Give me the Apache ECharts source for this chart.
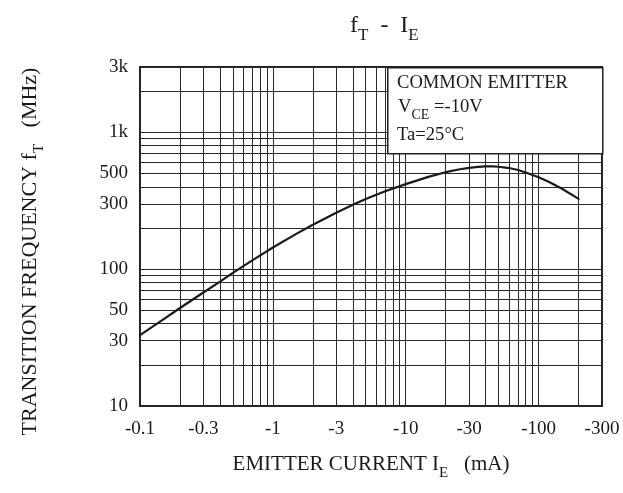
<!DOCTYPE html>
<html>
<head>
<meta charset="utf-8">
<script src="https://cdn.jsdelivr.net/npm/echarts@6.0.0/dist/echarts.min.js"></script>
<style>
html,body{margin:0;padding:0;background:#fff;}
#chart{width:623px;height:493px;}
</style>
</head>
<body>
<div id="chart"></div>
<script>
// ---- data (I_E magnitude in mA, f_T in MHz) ----
const emitterCurrent = [0.1, 0.15, 0.2, 0.3, 0.4, 0.5, 0.7, 1, 1.5, 2, 3, 4, 5, 7, 10,
  15, 20, 25, 30, 35, 40, 45, 50, 60, 70, 80, 100, 120, 150, 200];
const transitionFreq = [33, 43, 52, 67.5, 81, 94, 116, 144, 181, 211, 258, 295, 326, 371, 418,
  474, 511, 535, 550, 559, 563, 563, 560, 548, 530, 509, 469, 433, 387, 326];

// tick labels
const xLabelValues = [0.1, 0.3, 1, 3, 10, 30, 100, 300];
const yLabelValues = [10, 30, 50, 100, 300, 500, 1000, 3000];

// grid lines
const xGridValues = [0.1, 0.2, 0.3, 0.4, 0.5, 0.6, 0.7, 0.8, 0.9,
  1, 2, 3, 4, 5, 6, 7, 8, 9,
  10, 20, 30, 40, 50, 60, 70, 80, 90,
  100, 200, 300];
const yGridValues = [10, 20, 30, 40, 50, 60, 70, 80, 90,
  100, 200, 300, 400, 500, 600, 700, 800, 900,
  1000, 2000, 3000];

const FONT = '"Liberation Serif", "Times New Roman", serif';
const INK = '#1a1a1a';

const chart = echarts.init(document.getElementById('chart'), null, {renderer: 'canvas'});

chart.setOption({
  backgroundColor: '#fff',
  animation: false,
  title: {
    text: '{a|f}{s|T}{a|  -  I}{s|E}',
    left: 345,
    top: 9,
    textStyle: {
      fontWeight: 'normal',
      rich: {
        a: {fontFamily: FONT, fontSize: 24, fontWeight: 'normal', color: INK, verticalAlign: 'bottom', padding: [0, 0, 6, 0]},
        s: {fontFamily: FONT, fontSize: 17, fontWeight: 'normal', color: INK, verticalAlign: 'bottom'}
      }
    }
  },
  grid: {
    left: 140, right: 21, top: 67, bottom: 87,
    show: true, borderColor: '#222', borderWidth: 2
  },
  xAxis: {
    type: 'log',
    logBase: 10,
    min: 0.1,
    max: 300,
    name: '{a|EMITTER CURRENT I}{s|E}{a|   (mA)}',
    nameLocation: 'middle',
    nameGap: 48,
    nameTextStyle: {
      rich: {
        a: {fontFamily: FONT, fontSize: 21, color: INK, verticalAlign: 'bottom', padding: [0, 0, 6, 0]},
        s: {fontFamily: FONT, fontSize: 15, color: INK, verticalAlign: 'bottom'}
      }
    },
    axisLine: {show: false},
    axisTick: {show: false, customValues: xGridValues},
    splitLine: {show: true, lineStyle: {color: '#2a2a2a', width: 1}},
    axisLabel: {
      customValues: xLabelValues,
      formatter: v => '-' + v,
      fontFamily: FONT, fontSize: 19, color: INK, margin: 14
    }
  },
  yAxis: {
    type: 'log',
    logBase: 10,
    min: 10,
    max: 3000,
    name: '{a|TRANSITION FREQUENCY f}{s|T}{a|   (MHz)}',
    nameLocation: 'middle',
    nameRotate: 90,
    nameGap: 93,
    nameTextStyle: {
      padding: [0, 30, 0, 0],
      rich: {
        a: {fontFamily: FONT, fontSize: 22, color: INK, verticalAlign: 'bottom', padding: [0, 0, 6, 0]},
        s: {fontFamily: FONT, fontSize: 15, color: INK, verticalAlign: 'bottom'}
      }
    },
    axisLine: {show: false},
    axisTick: {show: false, customValues: yGridValues},
    splitLine: {show: true, lineStyle: {color: '#2a2a2a', width: 1}},
    axisLabel: {
      customValues: yLabelValues,
      formatter: v => v >= 1000 ? (v / 1000) + 'k' : String(v),
      fontFamily: FONT, fontSize: 19, color: INK, margin: 12
    }
  },
  series: [{
    type: 'line',
    data: emitterCurrent.map((x, i) => [x, transitionFreq[i]]),
    smooth: false,
    symbol: 'none',
    lineStyle: {color: INK, width: 2.2, join: 'round', cap: 'round'},
    z: 5
  }],
  graphic: [
    {
      type: 'rect',
      left: 387, top: 67,
      shape: {width: 215, height: 86},
      style: {fill: '#fff', stroke: '#222', lineWidth: 1.5},
      z: 100
    },
    {
      type: 'text',
      left: 397, top: 74,
      style: {text: 'COMMON EMITTER', font: '18.6px ' + FONT, fill: INK},
      z: 101
    },
    {
      type: 'text',
      left: 398, top: 98,
      style: {
        text: '{n|V}{s|CE}{n| =-10V}',
        rich: {
          n: {fontFamily: FONT, fontSize: 18.6, fill: INK, color: INK, verticalAlign: 'bottom', padding: [0, 0, 5, 0]},
          s: {fontFamily: FONT, fontSize: 14, fill: INK, color: INK, verticalAlign: 'bottom'}
        }
      },
      z: 101
    },
    {
      type: 'text',
      left: 397, top: 126,
      style: {text: 'Ta=25\u00B0C', font: '18.6px ' + FONT, fill: INK},
      z: 101
    }
  ]
});
</script>
</body>
</html>
